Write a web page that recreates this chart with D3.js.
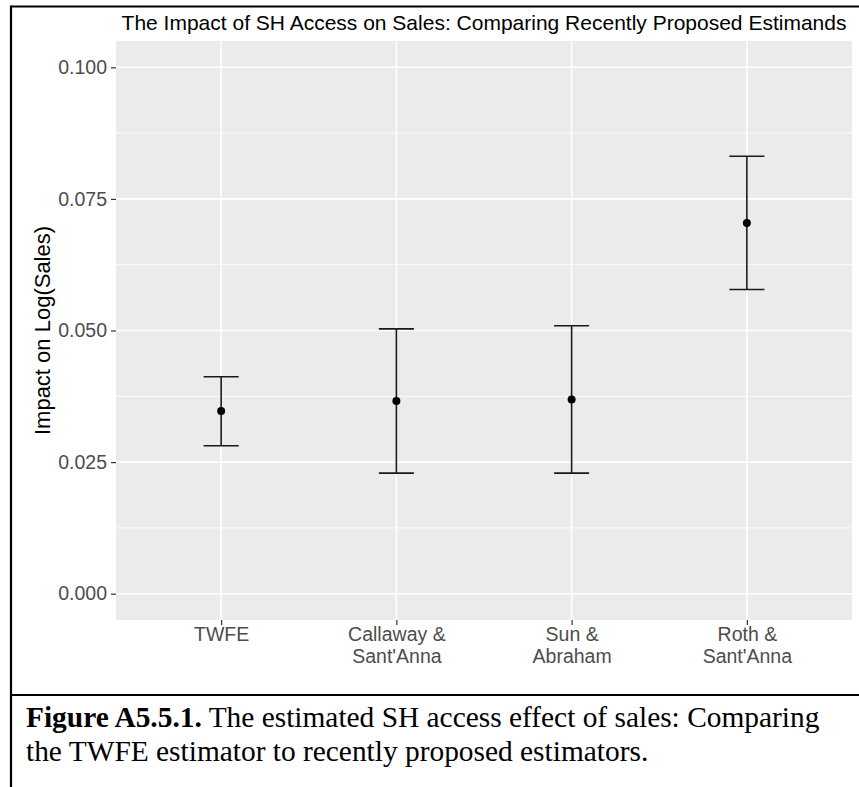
<!DOCTYPE html>
<html>
<head>
<meta charset="utf-8">
<script src="https://cdn.jsdelivr.net/npm/d3@7"></script>
<style>
  html, body { margin: 0; padding: 0; background: #ffffff; }
  svg { display: block; }
</style>
</head>
<body>
<svg id="chart" width="859" height="787"></svg>
<script>
// Estimators compared, with their point estimates and confidence bounds
const categories = ["TWFE", "Callaway & Sant'Anna", "Sun & Abraham", "Roth & Sant'Anna"];
const tickLabelLines = [["TWFE"], ["Callaway &", "Sant'Anna"], ["Sun &", "Abraham"], ["Roth &", "Sant'Anna"]];
const estimates = [0.0347, 0.0366, 0.0369, 0.0704];
const lowerBounds = [0.0281, 0.0229, 0.0229, 0.0578];
const upperBounds = [0.0412, 0.0503, 0.0509, 0.0831];
const yTicks = [0, 0.025, 0.05, 0.075, 0.1];
const yMinorTicks = [0.0125, 0.0375, 0.0625, 0.0875];

const titleText = "The Impact of SH Access on Sales: Comparing Recently Proposed Estimands";
const yAxisTitle = "Impact on Log(Sales)";
const captionBold = "Figure A5.5.1.";
const captionLine1 = " The estimated SH access effect of sales: Comparing";
const captionLine2 = "the TWFE estimator to recently proposed estimators.";

const sans = "'Liberation Sans', Arial, sans-serif";
const serif = "'Liberation Serif', 'Times New Roman', serif";

const svg = d3.select("#chart");
const panel = { left: 116, right: 852, top: 41, bottom: 620 };

const x = d3.scalePoint().domain(categories).range([panel.left, panel.right]).padding(0.6);
const y = d3.scaleLinear().domain([-0.005, 0.105]).range([panel.bottom, panel.top]);

svg.append("rect").attr("width", 859).attr("height", 787).attr("fill", "#ffffff");

// Panel background
svg.append("rect")
  .attr("x", panel.left).attr("y", panel.top)
  .attr("width", panel.right - panel.left).attr("height", panel.bottom - panel.top)
  .attr("fill", "#EBEBEB");

// Grid lines
const grid = svg.append("g");
grid.selectAll("line.minor").data(yMinorTicks).join("line")
  .attr("x1", panel.left).attr("x2", panel.right)
  .attr("y1", d => y(d)).attr("y2", d => y(d))
  .attr("stroke", "#ffffff").attr("stroke-width", 0.8);
grid.selectAll("line.majorY").data(yTicks).join("line")
  .attr("x1", panel.left).attr("x2", panel.right)
  .attr("y1", d => y(d)).attr("y2", d => y(d))
  .attr("stroke", "#ffffff").attr("stroke-width", 1.6);
grid.selectAll("line.majorX").data(categories).join("line")
  .attr("x1", d => x(d)).attr("x2", d => x(d))
  .attr("y1", panel.top).attr("y2", panel.bottom)
  .attr("stroke", "#ffffff").attr("stroke-width", 1.6);

// Y axis
const yAxis = svg.append("g")
  .attr("transform", `translate(${panel.left},0)`)
  .call(d3.axisLeft(y).tickValues(yTicks).tickFormat(d3.format(".3f")).tickSize(5).tickPadding(4));
yAxis.select(".domain").remove();
yAxis.selectAll(".tick line").attr("stroke", "#333333").attr("stroke-width", 1.2);
yAxis.selectAll(".tick text")
  .attr("fill", "#4D4D4D").style("font-family", sans).style("font-size", "19.5px");

// X axis
const xAxis = svg.append("g")
  .attr("transform", `translate(0,${panel.bottom})`)
  .call(d3.axisBottom(x).tickSize(5).tickPadding(4).tickFormat(""));
xAxis.select(".domain").remove();
xAxis.selectAll(".tick line").attr("stroke", "#333333").attr("stroke-width", 1.2);
xAxis.selectAll(".tick text").remove();
xAxis.selectAll(".tick").each(function (d, i) {
  const t = d3.select(this).append("text")
    .attr("fill", "#4D4D4D")
    .attr("text-anchor", "middle")
    .style("font-family", sans).style("font-size", "19.5px");
  tickLabelLines[i].forEach((line, j) => {
    t.append("tspan").attr("x", 0).attr("y", 21 + j * 22).text(line);
  });
});

// Error bars and point estimates
const capHalf = x.step() * 0.1;
const bars = svg.append("g");
categories.forEach((c, i) => {
  const g = bars.append("g");
  g.append("line")
    .attr("x1", x(c)).attr("x2", x(c))
    .attr("y1", y(lowerBounds[i])).attr("y2", y(upperBounds[i]))
    .attr("stroke", "#1a1a1a").attr("stroke-width", 1.6);
  [lowerBounds[i], upperBounds[i]].forEach(v => {
    g.append("line")
      .attr("x1", x(c) - capHalf).attr("x2", x(c) + capHalf)
      .attr("y1", y(v)).attr("y2", y(v))
      .attr("stroke", "#1a1a1a").attr("stroke-width", 1.6);
  });
  g.append("circle")
    .attr("cx", x(c)).attr("cy", y(estimates[i])).attr("r", 4)
    .attr("fill", "#000000");
});

// Title
svg.append("text")
  .attr("x", (panel.left + panel.right) / 2).attr("y", 30)
  .attr("text-anchor", "middle")
  .style("font-family", sans).style("font-size", "21px").attr("fill", "#000000")
  .text(titleText);

// Y axis title
svg.append("text")
  .attr("transform", `translate(50,${(panel.top + panel.bottom) / 2}) rotate(-90)`)
  .attr("text-anchor", "middle")
  .style("font-family", sans).style("font-size", "22px").attr("fill", "#000000")
  .text(yAxisTitle);

// Frame lines
const frame = svg.append("g").attr("stroke", "#000000").attr("stroke-width", 2.2);
frame.append("line").attr("x1", 11).attr("x2", 859).attr("y1", 6.5).attr("y2", 6.5);
frame.append("line").attr("x1", 11).attr("x2", 11).attr("y1", 5.4).attr("y2", 787);
frame.append("line").attr("x1", 11).attr("x2", 859).attr("y1", 695).attr("y2", 695);

// Caption
const cap = svg.append("text")
  .style("font-family", serif).style("font-size", "29.4px").attr("fill", "#000000");
const l1 = cap.append("tspan").attr("x", 26).attr("y", 727);
l1.append("tspan").attr("font-weight", "bold").text(captionBold);
l1.append("tspan").text(captionLine1);
cap.append("tspan").attr("x", 26).attr("y", 761).text(captionLine2);
</script>
</body>
</html>
